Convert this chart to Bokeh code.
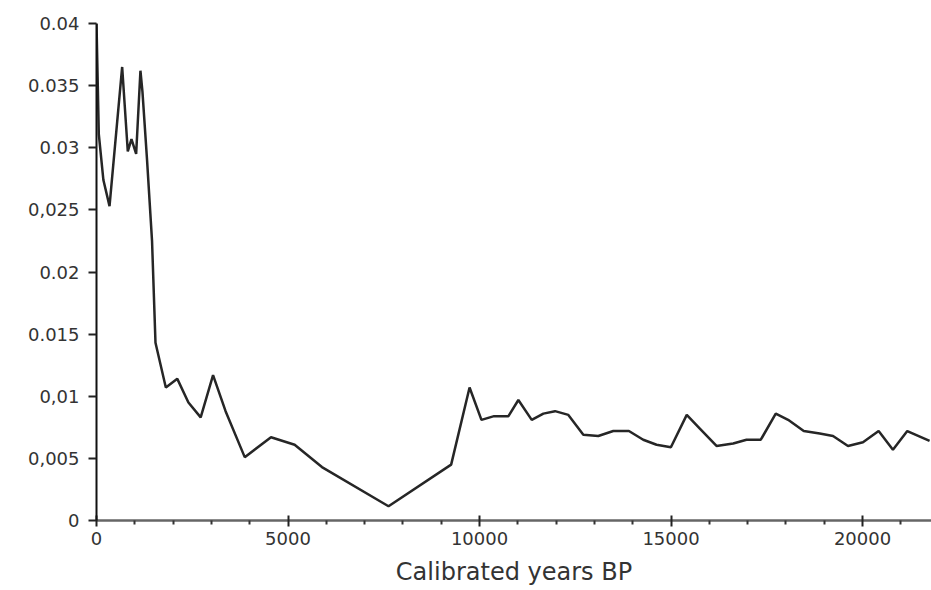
from bokeh.plotting import figure
from bokeh.models import FixedTicker, Range1d
from bokeh.embed import file_html
from bokeh.resources import INLINE

years = [0, 60, 180, 340, 670, 817, 913, 1035, 1147, 1200, 1320, 1450, 1540,
         1810, 2110, 2400, 2720, 3043, 3370, 3870, 4556, 5173, 5886, 7624,
         9259, 9740, 10050, 10380, 10755, 11014, 11363, 11667, 11971, 12319,
         12710, 13100, 13492, 13900, 14274, 14622, 14996, 15410, 15752, 16187,
         16622, 16970, 17343, 17734, 18056, 18465, 18882, 19229, 19620, 20011,
         20420, 20793, 21168, 21750]
values = [0.0400, 0.0311, 0.0274, 0.0253, 0.0365, 0.0297, 0.0307, 0.0295,
          0.0362, 0.0345, 0.0290, 0.0225, 0.0143, 0.0107, 0.0114, 0.0095,
          0.0083, 0.0117, 0.0088, 0.0051, 0.0067, 0.0061, 0.0043, 0.00115,
          0.0045, 0.0107, 0.0081, 0.0084, 0.0084, 0.0097, 0.0081, 0.0086,
          0.0088, 0.0085, 0.0069, 0.0068, 0.0072, 0.0072, 0.0065, 0.0061,
          0.0059, 0.0085, 0.0074, 0.0060, 0.0062, 0.0065, 0.0065, 0.0086,
          0.0081, 0.0072, 0.0070, 0.0068, 0.0060, 0.0063, 0.0072, 0.0057,
          0.0072, 0.0064]

x_ticks = [0, 5000, 10000, 15000, 20000]
x_minor = [1000, 2000, 3000, 4000, 6000, 7000, 8000, 9000, 11000, 12000, 13000,
           14000, 16000, 17000, 18000, 19000, 21000]
y_ticks = [0, 0.005, 0.01, 0.015, 0.02, 0.025, 0.03, 0.035, 0.04]
y_tick_labels = ["0", "0,005", "0,01", "0.015", "0.02", "0,025", "0.03", "0.035", "0.04"]
x_label = "Calibrated years BP"

FONT = "DejaVu Sans"
TXT = "#333333"

p = figure(width=931, height=590, output_backend="svg", toolbar_location=None,
           x_range=Range1d(0, 21800), y_range=Range1d(0, 0.04),
           min_border_left=96, min_border_right=0, min_border_top=23,
           min_border_bottom=70, background_fill_color="white",
           border_fill_color="white")
p.outline_line_color = None
p.grid.visible = False

p.line(years, values, line_color="#262626", line_width=2.5)

xa = p.xaxis[0]
xa.ticker = FixedTicker(ticks=x_ticks, minor_ticks=x_minor)
xa.axis_label = x_label
xa.axis_line_color = "#666666"
xa.axis_line_width = 2.5
xa.major_tick_line_color = "#222222"
xa.major_tick_line_width = 2
xa.major_tick_in = 5
xa.major_tick_out = 6
xa.minor_tick_line_color = "#333333"
xa.minor_tick_line_width = 2
xa.minor_tick_in = 0
xa.minor_tick_out = 4
xa.major_label_standoff = 5
xa.axis_label_standoff = 10
xa.major_label_text_font = FONT
xa.major_label_text_font_size = "18px"
xa.major_label_text_color = TXT
xa.axis_label_text_font = FONT
xa.axis_label_text_font_size = "24px"
xa.axis_label_text_font_style = "normal"
xa.axis_label_text_color = TXT

ya = p.yaxis[0]
ya.ticker = FixedTicker(ticks=y_ticks)
ya.major_label_overrides = {t: l for t, l in zip(y_ticks, y_tick_labels)}
ya.axis_line_color = "#111111"
ya.axis_line_width = 2
ya.major_tick_line_color = "#222222"
ya.major_tick_line_width = 2
ya.major_tick_in = 0
ya.major_tick_out = 8
ya.minor_tick_line_color = None
ya.major_label_standoff = 9
ya.major_label_text_font = FONT
ya.major_label_text_font_size = "18px"
ya.major_label_text_color = TXT

open("out.html", "w").write(file_html(p, INLINE))
